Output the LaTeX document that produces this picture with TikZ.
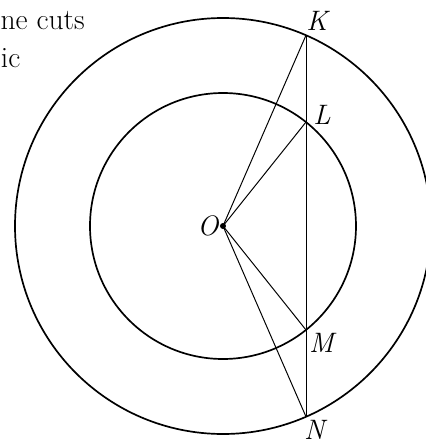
\documentclass[tikz,border=0pt]{standalone}
\usepackage{fontspec}
\usepackage{tikz}
\usetikzlibrary{positioning, calc}

\begin{document}
\begin{tikzpicture}
\tikzset{
  ring/.style={line width=1.2pt},
  chord/.style={line width=0.7pt},
  ptlabel/.style={font=\fontsize{20}{22}\selectfont\itshape, inner sep=1pt},
  cuttext/.style={font=\fontsize{21}{24}\selectfont, inner sep=0pt}
}
\useasboundingbox (-5.575,-5.45) rectangle (5.075,5.65);
% Circles
\coordinate (O) at (0,0);
\draw[ring] (O) circle (5.2);
\draw[ring] (O) circle (3.325);
% Points on the chord
\coordinate (K) at (2.075,4.768);
\coordinate (L) at (2.075,2.598);
\coordinate (M) at (2.075,-2.598);
\coordinate (N) at (2.075,-4.768);
% Chord and radii
\draw[chord, line width=0.6pt] (K) -- (N);
\draw[chord] (O) -- (K);
\draw[chord] (O) -- (L);
\draw[chord] (O) -- (M);
\draw[chord] (O) -- (N);
\fill (O) circle (0.075);
% Labels
\node[ptlabel, left=2pt of O] (Olab) {O};
\node[ptlabel, above right=2pt and -1pt of K] (Klab) {K};
\node[ptlabel, right=4pt of L, yshift=5pt] (Llab) {L};
\node[ptlabel, below right=1pt and 1pt of M] (Mlab) {M};
\node[ptlabel, below=1pt of N, xshift=6pt] (Nlab) {N};
% Text cut from the page
\node[cuttext, anchor=base east] (line1) at (-3.45,4.925) {ne cuts};
\node[cuttext, anchor=base west] (line2) at (-5.56,3.975) {ic};
\end{tikzpicture}
\end{document}
